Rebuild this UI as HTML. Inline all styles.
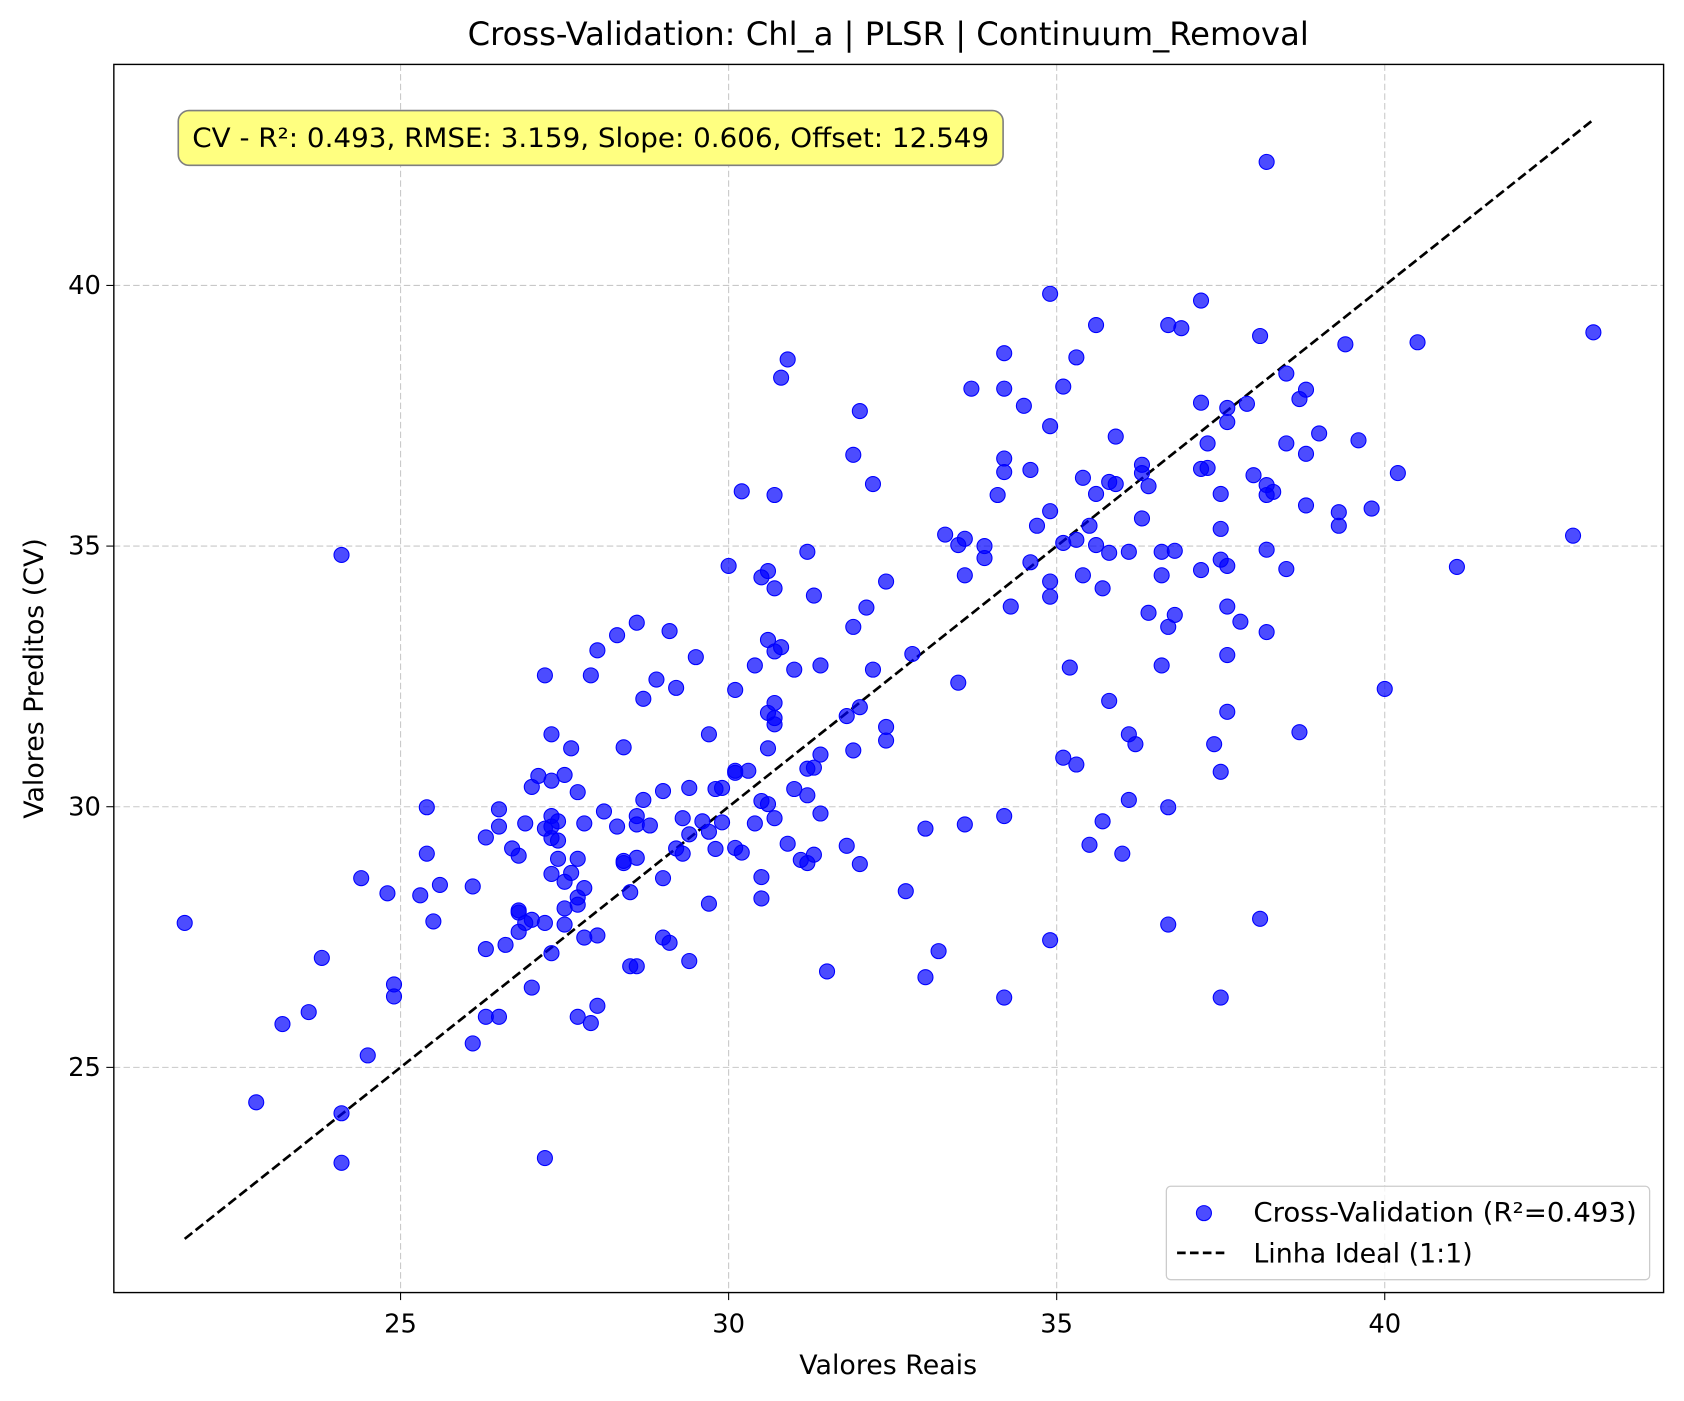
<!DOCTYPE html>
<html><head><meta charset="utf-8"><style>
html,body{margin:0;padding:0;background:#fff}
svg{display:block;font-family:"DejaVu Sans","Liberation Sans",sans-serif}
</style></head><body>
<svg id="chart" width="1684" height="1401" viewBox="0 0 1568 1305" preserveAspectRatio="none" xmlns="http://www.w3.org/2000/svg">
<rect width="1568" height="1305" fill="#fff"/>
<g id="grid"></g>
<g id="ideal"></g>
<g id="points"></g>
<rect x="106" y="60" width="1443" height="1144" fill="none" stroke="#000" stroke-width="1.3"/>
<g id="ticks"></g>
<text x="827" y="42" text-anchor="middle" font-size="30">Cross-Validation: Chl_a | PLSR | Continuum_Removal</text>
<text x="827" y="1280" text-anchor="middle" font-size="25">Valores Reais</text>
<text transform="translate(40,632) rotate(-90)" text-anchor="middle" font-size="25">Valores Preditos (CV)</text>
<g>
<rect x="166" y="103" width="768" height="51" rx="10" fill="#ffff80" stroke="#7f7f7f" stroke-width="1.5"/>
<text x="550" y="137" text-anchor="middle" font-size="25" textLength="742" lengthAdjust="spacingAndGlyphs">CV - R²: 0.493, RMSE: 3.159, Slope: 0.606, Offset: 12.549</text>
</g>
<g>
<rect x="1086" y="1105" width="450" height="87" rx="4" fill="#fff" fill-opacity="0.8" stroke="#ccc" stroke-width="1.2"/>
<circle cx="1121" cy="1130" r="7" fill="rgba(0,0,255,0.7)" stroke="#00f"/>
<text x="1167" y="1138" font-size="25" textLength="357" lengthAdjust="spacingAndGlyphs">Cross-Validation (R²=0.493)</text>
<line x1="1096" y1="1167" x2="1144" y2="1167" stroke="#000" stroke-width="2.5" stroke-dasharray="8,4"/>
<text x="1167" y="1176" font-size="25">Linha Ideal (1:1)</text>
</g>
</svg>
<script>
const xVals=[21.71,22.8,23.2,23.6,23.8,24.1,24.1,24.1,24.4,24.5,24.8,24.9,24.9,25.3,25.4,25.4,25.5,25.6,26.1,26.1,26.3,26.3,26.3,26.5,26.5,26.5,26.6,26.7,26.8,26.8,26.8,26.8,26.9,26.9,27.0,27.0,27.0,27.1,27.2,27.2,27.2,27.2,27.3,27.3,27.3,27.3,27.3,27.3,27.3,27.4,27.4,27.4,27.5,27.5,27.5,27.5,27.6,27.6,27.7,27.7,27.7,27.7,27.7,27.8,27.8,27.8,27.9,27.9,28.0,28.0,28.0,28.1,28.3,28.3,28.4,28.4,28.4,28.5,28.5,28.6,28.6,28.6,28.6,28.6,28.7,28.7,28.8,28.9,29.0,29.0,29.0,29.1,29.1,29.2,29.2,29.3,29.3,29.4,29.4,29.4,29.5,29.6,29.7,29.7,29.7,29.8,29.8,29.9,29.9,30.0,30.1,30.1,30.1,30.1,30.2,30.2,30.3,30.4,30.4,30.5,30.5,30.5,30.5,30.6,30.6,30.6,30.6,30.6,30.7,30.7,30.7,30.7,30.7,30.7,30.7,30.8,30.8,30.9,30.9,31.0,31.0,31.1,31.2,31.2,31.2,31.2,31.3,31.3,31.3,31.4,31.4,31.4,31.5,31.8,31.8,31.9,31.9,31.9,32.0,32.0,32.0,32.1,32.2,32.2,32.4,32.4,32.4,32.7,32.8,33.0,33.0,33.2,33.3,33.5,33.5,33.6,33.6,33.6,33.7,33.9,33.9,34.1,34.2,34.2,34.2,34.2,34.2,34.2,34.3,34.5,34.6,34.6,34.7,34.9,34.9,34.9,34.9,34.9,34.9,35.1,35.1,35.1,35.2,35.3,35.3,35.3,35.4,35.4,35.5,35.5,35.6,35.6,35.6,35.7,35.7,35.8,35.8,35.8,35.9,35.9,36.0,36.1,36.1,36.1,36.2,36.3,36.3,36.3,36.4,36.4,36.6,36.6,36.6,36.7,36.7,36.7,36.7,36.8,36.8,36.9,37.2,37.2,37.2,37.2,37.3,37.3,37.4,37.5,37.5,37.5,37.5,37.5,37.6,37.6,37.6,37.6,37.6,37.6,37.8,37.9,38.0,38.1,38.1,38.2,38.2,38.2,38.2,38.2,38.3,38.5,38.5,38.5,38.7,38.7,38.8,38.8,38.8,39.0,39.3,39.3,39.4,39.6,39.8,40.0,40.2,40.5,41.1,42.87,43.18];
const yVals=[27.77,24.33,25.83,26.06,27.1,34.83,24.12,23.17,28.63,25.23,28.34,26.59,26.36,28.3,29.99,29.1,27.8,28.5,28.47,25.46,29.41,27.27,25.97,29.95,29.62,25.97,27.35,29.2,28.01,27.97,27.6,29.06,29.68,27.77,30.38,27.83,26.53,30.59,32.52,29.58,27.77,23.26,31.39,30.5,29.82,29.62,29.4,28.71,27.19,29.72,29.35,29.0,30.61,28.56,28.05,27.74,31.12,28.73,30.28,29.0,28.26,28.12,25.97,29.68,28.44,27.49,32.52,25.85,33.0,27.53,26.18,29.91,33.29,29.62,31.14,28.96,28.92,28.36,26.94,33.53,29.82,29.66,29.02,26.94,32.07,30.13,29.64,32.44,30.3,28.63,27.49,33.37,27.39,32.28,29.2,29.78,29.1,30.36,29.47,27.04,32.87,29.72,31.39,29.52,28.14,30.34,29.19,30.36,29.7,34.62,32.24,30.69,30.65,29.21,36.05,29.12,30.69,32.71,29.68,34.4,30.11,28.65,28.24,34.52,33.2,31.8,31.12,30.05,35.98,34.19,32.98,31.99,31.7,31.58,29.78,33.06,38.23,38.58,29.29,32.63,30.34,28.98,34.89,30.73,30.22,28.92,34.05,30.75,29.08,32.71,31.0,29.87,26.84,31.74,29.25,36.75,33.45,31.08,37.59,31.91,28.9,33.82,36.19,32.63,34.32,31.53,31.27,28.38,32.93,29.58,26.73,27.23,35.22,35.02,32.38,35.14,34.44,29.66,38.02,35.0,34.77,35.98,38.7,38.02,36.68,36.42,29.82,26.34,33.84,37.69,36.46,34.69,35.39,39.84,37.3,35.67,34.32,34.03,27.44,38.06,35.06,30.94,32.67,38.62,35.12,30.81,36.31,34.44,29.27,35.39,39.24,36.0,35.02,34.19,29.72,36.23,34.87,32.03,37.1,36.19,29.1,34.89,31.39,30.13,31.2,36.56,36.4,35.53,36.15,33.72,34.89,34.44,32.71,39.24,33.45,29.99,27.74,34.91,33.68,39.18,39.71,37.75,36.48,34.54,36.97,36.5,31.2,36.0,35.33,34.74,30.67,26.34,37.65,37.38,34.62,33.84,32.91,31.82,33.55,37.73,36.36,39.03,27.85,42.37,36.17,35.98,34.93,33.35,36.04,38.31,36.97,34.56,37.82,31.43,38.0,36.77,35.78,37.16,35.65,35.39,38.87,37.03,35.72,32.26,36.4,38.91,34.6,35.2,39.1];
const xTicks=[25,30,35,40];
const yTicks=[25,30,35,40];
const idealRange=[21.71,43.18];
const NS='http://www.w3.org/2000/svg';
const X0=106,X1=1549,Y0=60,Y1=1204,xmin=20.63,xmax=44.25,ymin=20.68,ymax=44.24;
function sx(v){return X0+(v-xmin)/(xmax-xmin)*(X1-X0);}
function sy(v){return Y1-(v-ymin)/(ymax-ymin)*(Y1-Y0);}
function mk(t,a,p){const e=document.createElementNS(NS,t);for(const k in a)e.setAttribute(k,a[k]);p.appendChild(e);return e;}
const grid=document.getElementById('grid'),ticks=document.getElementById('ticks');
xTicks.forEach(t=>{
 const g=mk('line',{x1:sx(t),x2:sx(t),y1:Y0,y2:Y1,stroke:'#b0b0b0','stroke-opacity':0.7,'stroke-dasharray':'6,3'},grid);
 
 
 mk('line',{x1:sx(t),x2:sx(t),y1:Y1,y2:Y1+7,stroke:'#000'},ticks);
 const l=mk('text',{x:sx(t),y:Y1+37,'text-anchor':'middle','font-size':24},ticks);l.textContent=t;
 
 
});
yTicks.forEach(t=>{
 const g=mk('line',{x1:X0,x2:X1,y1:sy(t),y2:sy(t),stroke:'#b0b0b0','stroke-opacity':0.7,'stroke-dasharray':'6,3'},grid);
 
 
 mk('line',{x1:X0-7,x2:X0,y1:sy(t),y2:sy(t),stroke:'#000'},ticks);
 const l=mk('text',{x:X0-12,y:sy(t)+8,'text-anchor':'end','font-size':24},ticks);l.textContent=t;
 
 
});
const pts=document.getElementById('points');
xVals.forEach((x,i)=>{
 const c=mk('circle',{cx:sx(x),cy:sy(yVals[i]),r:7,fill:'rgba(0,0,255,0.7)',stroke:'#0000ff','stroke-width':1},pts);
 
 
});
const ln=mk('line',{x1:sx(idealRange[0]),y1:sy(idealRange[0]),x2:sx(idealRange[1]),y2:sy(idealRange[1]),stroke:'#000','stroke-width':2.5,'stroke-dasharray':'9,4'},document.getElementById('ideal'));


</script>
</body></html>
